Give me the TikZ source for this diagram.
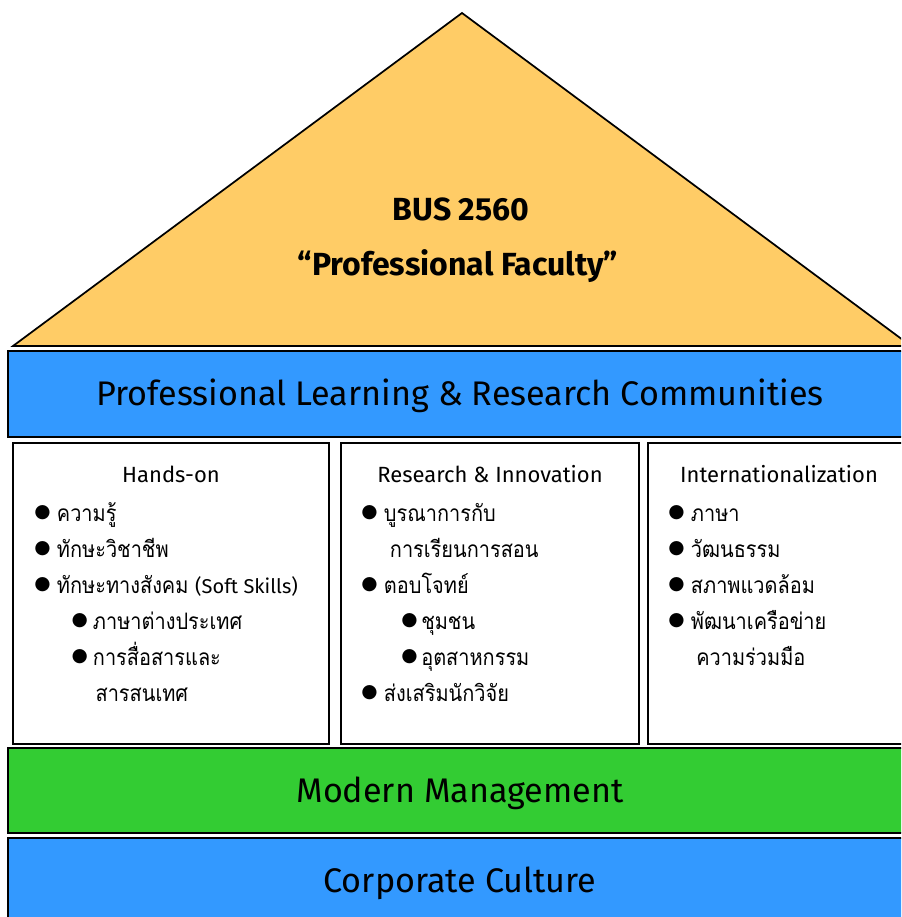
\documentclass[tikz,border=0pt]{standalone}
\usepackage{fontspec}
\setmainfont{Fira Sans}
\newfontfamily\thaifont[Script=Thai,FakeStretch=0.88]{Loma}
\newfontfamily\dejavu{DejaVu Sans}
\usetikzlibrary{positioning}
\definecolor{roofyellow}{HTML}{FFCC66}
\definecolor{bandblue}{HTML}{3399FF}
\definecolor{bandgreen}{HTML}{33CC33}
\newcommand{\bul}[1][16pt]{\makebox[#1][l]{\raisebox{2.5pt}{\fontsize{14}{14}\dejavu ●}}}

\begin{document}
\begin{tikzpicture}[x=0.75pt,y=-0.75pt,
  outline/.style={draw=black, line width=1.3pt},
  bandtext/.style={anchor=base, inner sep=0pt, font=\fontsize{25.6}{30}\selectfont},
  rooftext/.style={anchor=base, inner sep=0pt, font=\fontsize{24}{28}\selectfont\bfseries},
  coltitle/.style={anchor=base, inner sep=0pt, font=\fontsize{16.5}{20}\selectfont},
  colitems/.style={anchor=base west, inner sep=0pt, font=\fontsize{17}{27}\thaifont}]
		%%%%% START %%%%%
		\useasboundingbox (0,0) rectangle (901,917);
		\clip (0,0) rectangle (901,917);
		
		% roof
		\draw[outline, fill=roofyellow] (13,346) -- (462,13) -- (911,346) -- cycle;
		\node[rooftext] (bus) at (461,220) {BUS 2560};
		\node[rooftext] (faculty) at (458,275) {“Professional Faculty”};
		
		% professional learning band
		\draw[outline, fill=bandblue] (8,351) rectangle (912,437);
		\node[bandtext] (plrc) at (460,405) {Professional Learning \& Research Communities};
		
		% pillars
		\draw[outline, fill=white] (13,443) rectangle (329,744);
		\draw[outline, fill=white] (341,443) rectangle (639,744);
		\draw[outline, fill=white] (648,443) rectangle (912,744);
		
		\node[coltitle] (handson) at (171,482) {Hands-on};
		\node[coltitle] (research) at (490,482) {Research \& Innovation};
		\node[coltitle] (inter) at (779,482) {Internationalization};
		
		\node[colitems] (handsonlist) at (34,521) {\begin{tabular}[t]{@{}l@{}}
			\bul[17pt]ความรู้\\
			\bul[17pt]ทักษะวิชาชีพ\\
			\bul[17pt]ทักษะทางสังคม {\rmfamily\fontsize{15}{27}\selectfont(Soft Skills)}\\
			\hspace*{28pt}\bul[16pt]ภาษาต่างประเทศ\\
			\hspace*{28pt}\bul[16pt]การสื่อสารและ\\
			\hspace*{46pt}สารสนเทศ
		\end{tabular}};
		\node[colitems] (researchlist) at (361,521) {\begin{tabular}[t]{@{}l@{}}
			\bul[17pt]บูรณาการกับ\\
			\hspace*{21.5pt}การเรียนการสอน\\
			\bul[17pt]ตอบโจทย์\\
			\hspace*{30pt}\bul[15pt]ชุมชน\\
			\hspace*{30pt}\bul[15pt]อุตสาหกรรม\\
			\bul[17pt]ส่งเสริมนักวิจัย
		\end{tabular}};
		\node[colitems] (interlist) at (668,521) {\begin{tabular}[t]{@{}l@{}}
			\bul[17pt]ภาษา\\
			\bul[17pt]วัฒนธรรม\\
			\bul[17pt]สภาพแวดล้อม\\
			\bul[17pt]พัฒนาเครือข่าย\\
			\hspace*{21pt}ความร่วมมือ
		\end{tabular}};
		
		% modern management band
		\draw[outline, fill=bandgreen] (8,748) rectangle (912,833);
		\node[bandtext] (modern) at (460,802) {Modern Management};
		
		% corporate culture band
		\draw[outline, fill=bandblue] (8,838) rectangle (912,930);
		\node[bandtext] (culture) at (460,892) {Corporate Culture};
		
		%%%%% END %%%%%
\end{tikzpicture}
\end{document}
